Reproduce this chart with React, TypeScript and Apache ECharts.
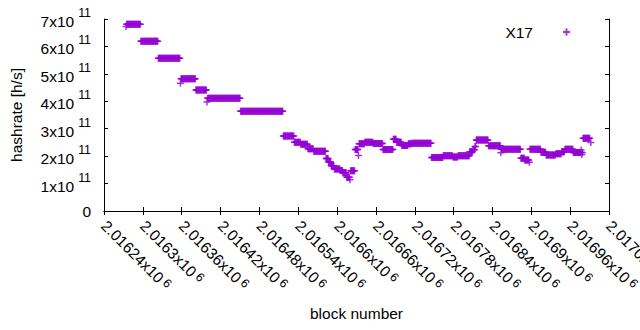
import React, { useEffect, useRef } from "react";
import * as echarts from "echarts";

// Block ranges (inclusive) with a constant hashrate, value in units of 1e11 h/s
const segStart = [
  2016274, 2016275, 2016297, 2016324, 2016358, 2016359, 2016382, 2016399, 2016400, 2016451,
  2016517, 2016534, 2016544, 2016555, 2016564, 2016583, 2016587, 2016591, 2016596, 2016605,
  2016609, 2016615, 2016620, 2016621, 2016628, 2016633, 2016634, 2016643, 2016656, 2016671,
  2016687, 2016692, 2016700, 2016710, 2016716, 2016746, 2016764, 2016779, 2016787, 2016805,
  2016810, 2016813, 2016815, 2016834, 2016853, 2016854, 2016884, 2016890, 2016897, 2016898,
  2016915, 2016923, 2016938, 2016947, 2016952, 2016965, 2016977, 2016978, 2016979, 2016980,
  2016992,
];
const segEnd = [
  2016274, 2016296, 2016323, 2016357, 2016358, 2016381, 2016398, 2016399, 2016450, 2016516,
  2016533, 2016543, 2016554, 2016563, 2016582, 2016586, 2016590, 2016595, 2016604, 2016608,
  2016614, 2016619, 2016620, 2016627, 2016632, 2016633, 2016642, 2016655, 2016670, 2016686,
  2016691, 2016699, 2016709, 2016715, 2016745, 2016763, 2016778, 2016786, 2016804, 2016809,
  2016812, 2016814, 2016833, 2016852, 2016853, 2016883, 2016889, 2016896, 2016897, 2016914,
  2016922, 2016937, 2016946, 2016951, 2016964, 2016976, 2016977, 2016978, 2016979, 2016990,
  2016992,
];
const segValue = [
  6.73, 6.81, 6.19, 5.57, 4.66, 4.82, 4.41, 3.97, 4.11, 3.64,
  2.73, 2.51, 2.43, 2.27, 2.18, 1.91, 1.79, 1.65, 1.53, 1.48,
  1.39, 1.23, 1.14, 1.47, 2.24, 2.02, 2.45, 2.51, 2.46, 2.24,
  2.62, 2.51, 2.39, 2.45, 2.47, 1.95, 2.01, 1.97, 2.01, 2.16,
  2.23, 2.35, 2.59, 2.38, 2.12, 2.25, 1.92, 1.86, 1.78, 2.25,
  2.14, 2.04, 2.09, 2.16, 2.25, 2.13, 2.22, 2.06, 2.13, 2.65,
  2.5,
];

const seriesName = "X17";
const xAxisTitle = "block number";
const yAxisTitle = "hashrate [h/s]";
const xMin = 2016240;
const xMax = 2017020;
const xStep = 60;
const yMin = 0;
const yMax = 7e11;
const yStep = 1e11;

const FONT = "Liberation Sans";
const FS = 15.5;
const SUP = 12.4;
const PURPLE = "#9400D3";
const PLUS = "path://M0,3.5L7,3.5M3.5,0L3.5,7";

const points: number[][] = [];
for (let i = 0; i < segStart.length; i++) {
  for (let b = segStart[i]; b <= segEnd[i]; b++) {
    points.push([b, segValue[i] * 1e11]);
  }
}

const base = { fontFamily: FONT, color: "#000", verticalAlign: "middle" };
const yRich = {
  m: { ...base, fontSize: FS, padding: [5, 0, 0, 0] },
  s: { ...base, fontSize: SUP, padding: [0, 0, 12, 4] },
  z: { ...base, fontSize: FS },
};
const xRich = {
  m: { ...base, fontSize: FS },
  s: { ...base, fontSize: SUP, padding: [0, 0, 4, 3] },
};

const fmtX = (v: number) => `{m|${parseFloat((v / 1e6).toFixed(5))}x10}{s|6}`;
const fmtY = (v: number) => (v === 0 ? "{z|0}" : `{m|${Math.round(v / 1e11)}x10}{s|11}`);

export default function App() {
  const ref = useRef<HTMLDivElement>(null);
  useEffect(() => {
    if (!ref.current) return;
    const chart = echarts.init(ref.current, null, { renderer: "svg" });
    const tick = { show: true, inside: true, length: 4, lineStyle: { color: "#000", width: 1 } };
    const line = { show: true, lineStyle: { color: "#000", width: 1 } };
    chart.setOption({
      animation: false,
      backgroundColor: "#fff",
      textStyle: { fontFamily: FONT },
      grid: {
        left: 104,
        top: 19,
        right: 31,
        bottom: 119,
        containLabel: false,
        outerBoundsMode: "none",
      },
      legend: {
        show: true,
        data: [{ name: seriesName, icon: PLUS }],
        right: 69,
        top: 24,
        padding: 0,
        align: "right",
        itemWidth: 7,
        itemHeight: 7,
        textStyle: { fontSize: FS, fontFamily: FONT, color: "#000", padding: [0, 25, 0, 0] },
      },
      xAxis: [
        {
          type: "value",
          position: "bottom",
          min: xMin,
          max: xMax,
          interval: xStep,
          name: xAxisTitle,
          nameLocation: "middle",
          nameGap: 94,
          nameTextStyle: { fontSize: FS, fontFamily: FONT, color: "#000" },
          axisLine: line,
          axisTick: tick,
          splitLine: { show: false },
          axisLabel: {
            show: true,
            rotate: -45,
            margin: 12,
            formatter: fmtX,
            rich: xRich,
            showMinLabel: true,
            showMaxLabel: true,
            hideOverlap: false,
          },
        },
        {
          type: "value",
          position: "top",
          min: xMin,
          max: xMax,
          interval: xStep,
          axisLine: line,
          axisTick: tick,
          axisLabel: { show: false },
          splitLine: { show: false },
        },
      ],
      yAxis: [
        {
          type: "value",
          position: "left",
          min: yMin,
          max: yMax,
          interval: yStep,
          name: yAxisTitle,
          nameLocation: "middle",
          nameRotate: 90,
          nameGap: 80,
          nameTextStyle: { fontSize: FS, fontFamily: FONT, color: "#000" },
          axisLine: line,
          axisTick: tick,
          splitLine: { show: false },
          axisLabel: { show: true, margin: 13, formatter: fmtY, rich: yRich },
        },
        {
          type: "value",
          position: "right",
          min: yMin,
          max: yMax,
          interval: yStep,
          axisLine: line,
          axisTick: tick,
          axisLabel: { show: false },
          splitLine: { show: false },
        },
      ],
      series: [
        {
          type: "scatter",
          name: seriesName,
          data: points,
          symbol: PLUS,
          symbolSize: 7,
          itemStyle: { color: PURPLE, borderColor: PURPLE, borderWidth: 1.5 },
          emphasis: { disabled: true },
          large: false,
          progressive: 0,
        },
      ],
    });
    return () => chart.dispose();
  }, []);
  return (
    <div
      ref={ref}
      style={{ position: "fixed", left: 0, top: 0, width: 640, height: 330, background: "#fff" }}
    />
  );
}
